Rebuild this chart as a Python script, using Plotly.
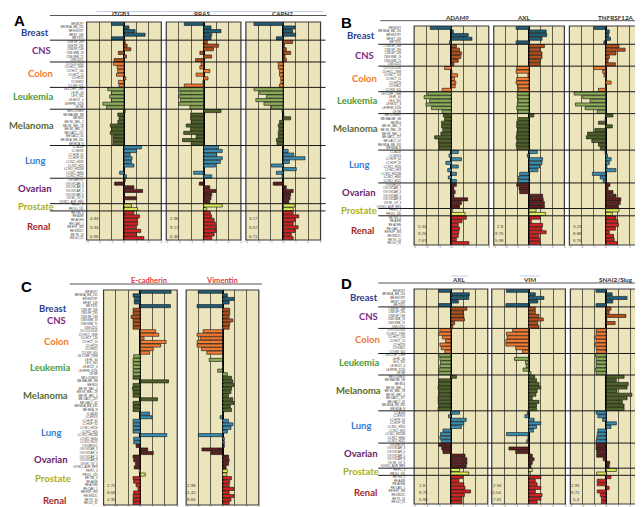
import plotly.graph_objects as go

W, H = 643, 507

# ---------------- categories ----------------
tissues = ["Breast", "CNS", "Colon", "Leukemia", "Melanoma", "Lung", "Ovarian", "Prostate", "Renal"]
cell_lines = [
    "BR:MCF7", "BR:MDA_MB_231", "BR:HS578T", "BR:BT_549", "BR:T47D",
    "CNS:SF_268", "CNS:SF_295", "CNS:SF_539", "CNS:SNB_19", "CNS:SNB_75", "CNS:U251",
    "CO:COLO205", "CO:HCC_2998", "CO:HCT_116", "CO:HCT_15", "CO:HT29", "CO:KM12", "CO:SW_620",
    "LE:CCRF_CEM", "LE:HL_60", "LE:K_562", "LE:MOLT_4", "LE:RPMI_8226", "LE:SR",
    "ME:LOXIMVI", "ME:MALME_3M", "ME:M14", "ME:SK_MEL_2", "ME:SK_MEL_28", "ME:SK_MEL_5",
    "ME:UACC_257", "ME:UACC_62", "ME:MDA_MB_435", "ME:MDA_N",
    "LC:A549", "LC:EKVX", "LC:HOP_62", "LC:HOP_92", "LC:NCI_H226", "LC:NCI_H23",
    "LC:NCI_H322M", "LC:NCI_H460", "LC:NCI_H522",
    "OV:IGROV1", "OV:OVCAR_3", "OV:OVCAR_4", "OV:OVCAR_5", "OV:OVCAR_8", "OV:SK_OV_3", "OV:NCI_ADR_RES",
    "PR:PC_3", "PR:DU_145",
    "RE:786_0", "RE:A498", "RE:ACHN", "RE:CAKI_1", "RE:RXF_393", "RE:SN12C", "RE:TK_10", "RE:UO_31",
]
group_sizes = [5, 6, 7, 6, 10, 9, 7, 2, 8]

# ---------------- values (z-scores) ----------------
A_ITGB1 = [-1.0, 0.4, 0.9, 1.7, -1.0,
           0.1, 0.25, 0.55, -0.45, 0.2, -0.8,
           -0.85, -0.55, -0.5, -0.6, 0.15, -0.45, -0.4,
           -1.3, -1.0, -1.15, -1.0, -1.7, -1.4,
           0.1, -0.5, -0.4, -0.5, -1.1, -1.0, -1.1, -0.9, -0.9, -0.9,
           1.4, 1.0, 0.5, 0.65, 0.6, 0.8, 0.0, -0.35, 0.2,
           0.1, -0.75, 0.8, 1.5, 0.05, 1.0, 0.0,
           0.6, 1.1,
           0.8, 1.25, 1.1, 1.1, 0.95, 1.35, 1.0, 1.6]
A_RRAS = [-1.55, 0.6, 1.4, 0.65, 0.6,
          0.3, 1.2, 0.8, -0.3, 0.65, -0.65,
          -0.2, -0.3, 0.5, -0.6, 0.35, -0.05, -1.55,
          -2.0, -1.9, -2.0, -1.85, -2.0, -1.1,
          1.4, -1.05, -1.05, -1.0, -1.4, -1.05, -1.6, -0.6, -1.7, -1.0,
          1.2, 1.5, 1.05, 1.5, 1.35, 0.95, 0.05, -0.8, 0.65,
          0.05, -0.35, 0.5, 1.0, 0.65, 0.6, 0.5,
          1.5, 0.25,
          0.55, 0.65, 0.85, 0.95, 1.0, 1.0, 0.85, 0.65]
A_CAPN2 = [-2.35, 0.95, 0.75, 1.0, -0.55,
           0.75, 0.1, 0.25, 0.6, 0.15, 0.25,
           -0.4, -0.4, -0.3, -0.3, -0.2, -0.2, -0.3,
           -2.35, -1.9, -1.35, -2.2, -1.55, -0.95,
           -0.1, 0.05, 0.6, -0.3, -0.4, -0.35, -0.4, -0.4, -0.55, -0.5,
           0.0, 0.4, 0.85, 1.75, 0.5, -0.95, 1.05, -0.55, -0.1,
           0.0, -0.8, 0.25, 0.8, 0.6, 0.55, 0.45,
           0.95, 0.8,
           0.8, 1.25, 0.95, 0.8, 1.2, 0.95, 0.65, 0.8]
B_ADAM9 = [-1.7, 0.15, 1.35, 1.65, -0.15,
           0.4, 0.65, 0.8, 0.75, 0.55, 0.2,
           -0.55, 0.05, 0.5, 0.25, 0.35, 0.3, -0.75,
           -1.9, -2.2, -1.75, -2.05, -1.6, -0.75,
           -0.65, -0.55, -0.8, -0.8, -0.7, -0.85, -1.35, -1.05, -1.0, -1.0,
           0.55, -0.2, 0.8, -0.45, 0.55, -0.3, 0.4, -0.25, 0.4,
           0.4, 0.2, 0.3, 0.2, 1.3, 0.8, 0.65,
           0.1, 1.1,
           1.2, 0.85, 0.55, 0.65, 0.6, 0.55, 0.4, 1.4]
B_AXL = [-1.1, 1.45, 1.5, 1.1, -1.1,
         1.3, 0.95, 1.1, 1.1, 0.95, 0.9,
         -1.05, -1.1, -0.1, -1.05, -1.1, -0.95, -0.9,
         -1.0, -1.0, -0.9, -1.0, -1.05, -0.95,
         0.4, -0.9, -1.05, -1.05, -1.0, -1.05, -1.1, -1.05, -1.1, -1.05,
         0.7, -0.15, 1.15, 1.1, 0.9, 0.75, -0.8, -0.9, -0.9,
         -1.05, -0.85, -0.8, 1.15, 1.2, 1.3, 1.3,
         0.6, 1.4,
         0.95, 0.2, 1.15, 1.1, 1.45, 0.85, 0.9, 0.95]
B_TNFRSF12A = [-0.95, 0.3, 0.25, 0.4, -0.15,
               1.1, 1.6, 0.85, 0.3, 0.2, 0.8,
               -1.0, -0.25, -0.15, 0.05, 0.45, 0.05, -0.6,
               -2.6, -1.9, -1.3, -2.5, -1.7, -0.7,
               0.6, -0.05, -0.6, 0.55, -0.9, -1.5, -1.6, -1.15, -0.6, -0.45,
               -0.05, 0.15, 0.45, 0.3, 0.1, 0.85, -1.1, -0.45, -0.2,
               0.35, 0.2, 0.6, 0.85, 1.25, 1.2, 1.05,
               1.1, 0.55,
               0.85, 1.0, 1.05, 0.8, 0.3, 0.65, 0.7, 0.95]
C_ECADHERIN = [2.5, -0.6, -0.5, -0.5, 2.45,
               -0.6, -0.6, -0.75, -0.6, -0.6, -0.6,
               1.25, 1.5, 0.3, 2.1, 1.65, 1.05, 0.75,
               -0.55, -0.6, -0.6, -0.6, -0.6, -0.6,
               -0.6, 2.3, -0.6, -0.65, -0.6, -0.6, 1.4, -0.6, -0.6, -0.6,
               0.75, 0.95, -0.6, -0.6, -0.6, -0.6, 2.15, -0.55, -0.55,
               -0.35, 0.6, 1.05, -0.6, -0.55, -0.4, -0.5,
               -0.1, 0.4,
               -0.6, -0.55, -0.35, -0.2, -0.55, -0.6, -0.6, -0.6]
C_VIMENTIN = [-2.0, 0.4, 0.95, 0.55, -2.1,
              0.6, 0.6, 0.55, 0.85, 0.6, 0.55,
              -1.6, -2.1, -1.85, -2.1, -2.1, -1.75, -1.3,
              0.05, -1.1, 0.0, 0.05, -0.4, 0.4,
              0.75, 0.85, 0.95, 0.75, 0.7, 0.5, 0.85, 0.95, 0.65, 0.75,
              0.05, -0.2, 0.5, 0.85, 0.7, 0.4, -2.0, 0.15, 0.15,
              0.15, -1.7, -0.95, 0.5, 0.55, 0.5, 0.3,
              0.4, 0.35,
              0.75, 0.6, 0.55, 0.95, 0.55, 0.95, 0.7, 0.55]
D_AXL = [-1.0, 1.5, 1.45, 0.6, -1.0,
         1.3, 1.0, 1.05, 1.1, 0.3, 0.15,
         -0.9, -1.0, -0.7, -0.45, -0.9, -0.8, -0.5,
         -1.0, -0.9, -0.85, -0.9, -1.0, -1.0,
         0.45, -1.0, -1.0, -1.05, -1.0, -1.0, -1.05, -1.05, -1.0, -1.05,
         0.7, -0.2, 1.25, 1.05, 0.85, -0.65, -0.85, -0.9, -0.8,
         -1.0, -0.75, -0.65, 1.15, 1.3, 1.3, 1.25,
         0.7, 1.45,
         0.95, 0.65, 1.05, 1.15, 1.6, 1.1, 0.9, 0.9]
D_VIM = [-1.8, 0.55, 1.25, 0.75, -1.85,
         0.55, 0.55, 0.85, 1.2, 0.75, 0.85,
         -1.3, -1.8, -1.75, -1.85, -1.85, -1.05, -0.5,
         0.05, -1.15, -0.25, -0.2, -0.45, 0.2,
         0.5, 0.65, 0.85, 1.0, 0.7, 0.6, 0.3, 0.85, 0.65, 0.65,
         -0.1, -0.3, 0.45, 1.0, 0.65, 0.4, -1.8, -0.05, -0.15,
         0.05, -1.6, -1.05, 0.3, 0.45, 0.3, 0.2,
         0.3, 0.15,
         1.0, 0.55, 0.7, 1.0, 0.55, 1.1, 1.0, 0.7]
D_SNAI2 = [-0.85, 0.5, 1.75, 0.55, -0.85,
           0.4, 0.25, 1.65, 0.05, 0.75, 0.0,
           -0.85, -0.85, -0.95, -0.85, -0.95, -0.85, -0.8,
           -0.9, -0.85, -0.85, -0.85, -0.9, -0.85,
           1.5, 0.85, 1.85, 1.75, 0.9, 2.15, 1.75, 1.35, 1.5, 1.5,
           -0.85, -0.7, -0.3, 0.85, 0.4, -0.7, -0.75, -0.8, -0.85,
           -0.85, -0.85, -0.8, -0.8, -0.25, 0.3, 0.25,
           0.85, -0.8,
           0.4, -0.75, -0.75, 0.25, -0.75, -0.5, -0.4, -0.4]

# correlation / stats text shown in each sub-panel
A_stats = [["4.83", "9.33", "6.96"], ["2.96", "9.17", "6.46"], ["3.17", "8.57", "6.71"]]
B_stats = [["5.34", "9.26", "7.67"], ["2.8", "9.75", "5.98"], ["3.24", "8.88", "6.76"]]
C_stats = [["2.75", "8.66", "4.35"], ["2.98", "11.42", "8.84"]]
D_stats = [["2.8", "9.75", "5.98"], ["2.94", "10.54", "7.81"], ["2.95", "9.71", "5.4"]]

# ---------------- styles ----------------
bar_colors = {"Breast": "#1f5e78", "CNS": "#b5501d", "Colon": "#f47b2f", "Leukemia": "#8dad59",
              "Melanoma": "#4f6228", "Lung": "#3a8db2", "Ovarian": "#5f1f20", "Prostate": "#dbeb55",
              "Renal": "#d42222"}
label_colors = {"Breast": "#2b3d8f", "CNS": "#7a2e86", "Colon": "#f07a30", "Leukemia": "#4d9a38",
                "Melanoma": "#5b6a30", "Lung": "#3b7bd4", "Ovarian": "#6a2170", "Prostate": "#aaae1e",
                "Renal": "#a5262b"}
BG = "#ECE4BA"

row_tissue = []
for t, n in zip(tissues, group_sizes):
    row_tissue += [t] * n
row_colors = [bar_colors[t] for t in row_tissue]

def px_x(v):
    return v / W

def px_y(v):
    return 1 - v / H

panels = [
    dict(letter="A", letter_pos=(10, 12), y=(14, 232), standoff=2, sep=(40, 317),
         subs=[("ITGB1", A_ITGB1, (77, 152), 112, A_stats[0], "l"),
               ("RRAS", A_RRAS, (157, 232), 193, A_stats[1], "l"),
               ("CAPN2", A_CAPN2, (237, 312), 274, A_stats[2], "l")],
         header=(40, 318, 7.5), title_y=5, title_color="#333333",
         labels_x=[25, 32, 31, 23, 22, 25, 25, 26, 29],
         labels_y=[24, 43, 65, 88, 117, 152, 180, 198, 218],
         stats_y=[210, 219, 228], stats_dx=1.5),
    dict(letter="B", letter_pos=(338, 14), y=(18, 237), standoff=12, sep=(370, 640),
         subs=[("ADAM9", B_ADAM9, (406, 481), 449, B_stats[0], "l"),
               ("AXL", B_AXL, (486, 557), 516, B_stats[1], "r"),
               ("TNFRSF12A", B_TNFRSF12A, (562, 635), 609, B_stats[2], "l")],
         header=(372, 643, 12.7), title_y=10, title_color="#333333",
         labels_x=[353, 356, 356, 349, 347, 351, 351, 351, 354],
         labels_y=[28, 47, 70, 92, 120, 156, 184, 202, 222],
         stats_y=[218, 225, 232], stats_dx=1.5),
    dict(letter="C", letter_pos=(17, 278), y=(282, 497), standoff=5, sep=None,
         subs=[("E-cadherin", C_ECADHERIN, (94, 168), 140, C_stats[0], "l"),
               ("Vimentin", C_VIMENTIN, (177, 250), 213, C_stats[1], "r")],
         header=(60, 253, 276), title_y=272, title_color="#e0393e",
         labels_x=[43, 47, 47, 40, 36, 41, 41, 43, 45],
         labels_y=[300, 312, 333, 359, 387, 424, 451, 470, 492],
         stats_y=[477, 484, 491], stats_dx=1.5),
    dict(letter="D", letter_pos=(338, 275), y=(281, 496), standoff=8, sep=(370, 640),
         subs=[("AXL", D_AXL, (406, 480), 451, D_stats[0], "l"),
               ("VIM", D_VIM, (484, 558), 522, D_stats[1], "r"),
               ("SNAI2/Slug", D_SNAI2, (563, 635), 609, D_stats[2], "r")],
         header=(370, 643, 275), title_y=271, title_color="#333333",
         labels_x=[356, 360, 359, 351, 350, 353, 353, 353, 357],
         labels_y=[289, 308, 331, 354, 382, 417, 445, 463, 484],
         stats_y=[477, 484, 491], stats_dx=3),
]

fig = go.Figure()
layout = dict(width=W, height=H, margin=dict(l=0, r=0, t=0, b=0),
              paper_bgcolor="white", plot_bgcolor=BG, showlegend=False,
              bargap=0.14, font=dict(family="Lato, Arial, sans-serif"))
shapes, annotations = [], []

# group boundaries (between categories)
bounds = []
acc = 0
for n in group_sizes[:-1]:
    acc += n
    bounds.append(acc - 0.5)

xi = 0
for pi, p in enumerate(panels, start=1):
    yname = "y" if pi == 1 else f"y{pi}"
    ykey = "yaxis" if pi == 1 else f"yaxis{pi}"
    first_x = None
    for (title, vals, (x0, x1), tx, stats, align) in p["subs"]:
        xi += 1
        xname = "x" if xi == 1 else f"x{xi}"
        xkey = "xaxis" if xi == 1 else f"xaxis{xi}"
        if first_x is None:
            first_x = xname
        fig.add_trace(go.Bar(x=vals, y=cell_lines, orientation="h",
                             marker=dict(color=row_colors, line=dict(color="#111111", width=0.6)),
                             xaxis=xname, yaxis=yname, hoverinfo="x+y"))
        layout[xkey] = dict(domain=[px_x(x0), px_x(x1)], anchor=yname, range=[-3, 3],
                            tick0=0, dtick=1, showgrid=True, gridcolor="#5f5e4a", gridwidth=0.8,
                            zeroline=True, zerolinecolor="#000000", zerolinewidth=1.6,
                            showline=False, ticks="", ticklen=0, ticklabelstandoff=-2,
                            tickfont=dict(size=3.5, color="#777777"), fixedrange=True)
        # frame
        shapes.append(dict(type="rect", xref=f"{xname} domain", yref=f"{yname} domain",
                           x0=0, x1=1, y0=0, y1=1, line=dict(color="#3a3a3a", width=1.2),
                           fillcolor="rgba(0,0,0,0)", layer="above"))
        # title
        annotations.append(dict(x=px_x(tx), y=px_y(p["title_y"]), xref="paper", yref="paper",
                                text=f"<b>{title}</b>", showarrow=False, xanchor="center",
                                yanchor="middle",
                                font=dict(size=6.3 if p["letter"] != "C" else 7.5,
                                          color=p["title_color"], family="Lato, Arial")))
        # stats
        for s, sy in zip(stats, p["stats_y"]):
            if align == "l":
                ax, anc = x0 + p["stats_dx"], "left"
            else:
                ax, anc = x0 + 12, "right"
            annotations.append(dict(x=px_x(ax), y=px_y(sy), xref="paper", yref="paper", text=s,
                                    showarrow=False, xanchor=anc, yanchor="middle",
                                    font=dict(size=4.4, color="#444444", family="Arial")))
    layout[ykey] = dict(domain=[px_y(p["y"][1]), px_y(p["y"][0])], anchor=first_x,
                        type="category", categoryorder="array", categoryarray=cell_lines,
                        range=[len(cell_lines) - 0.5, -0.5], showgrid=False, zeroline=False,
                        ticks="", ticklen=0, tickfont=dict(size=2.8, color="#333333", family="Arial"),
                        ticklabelstandoff=p["standoff"], fixedrange=True)
    # group separators
    if p["sep"] is not None:
        for b in bounds:
            shapes.append(dict(type="line", xref="paper", yref=yname,
                               x0=px_x(p["sep"][0]), x1=px_x(p["sep"][1]), y0=b, y1=b,
                               line=dict(color="#1a1a1a", width=1.0), layer="above"))
    # header line
    hx0, hx1, hy = p["header"]
    shapes.append(dict(type="line", xref="paper", yref="paper", x0=px_x(hx0), x1=px_x(hx1),
                       y0=px_y(hy), y1=px_y(hy), line=dict(color="#555555", width=1)))
    # panel letter
    annotations.append(dict(x=px_x(p["letter_pos"][0]), y=px_y(p["letter_pos"][1]), xref="paper",
                            yref="paper", text=f"<b>{p['letter']}</b>", showarrow=False,
                            xanchor="center", yanchor="middle",
                            font=dict(size=15, color="#000000", family="Arial")))
    # tissue labels
    for t, lx, ly in zip(tissues, p["labels_x"], p["labels_y"]):
        annotations.append(dict(x=px_x(lx), y=px_y(ly), xref="paper", yref="paper",
                                text=f"<b>{t}</b>", showarrow=False, xanchor="center",
                                yanchor="middle",
                                font=dict(size=9.5, color=label_colors[t], family="Lato, Arial")))

# faint decorative rules above some column titles
for (a, b, y) in [(87, 153, 3.5), (153, 233, 3.5), (233, 315, 3.5), (443, 460, 268), (512, 533, 268)]:
    shapes.append(dict(type="line", xref="paper", yref="paper", x0=px_x(a), x1=px_x(b),
                       y0=px_y(y), y1=px_y(y), line=dict(color="#c3d0e4", width=1)))

layout["shapes"] = shapes
layout["annotations"] = annotations
fig.update_layout(**layout)
fig.write_html("out.html")
